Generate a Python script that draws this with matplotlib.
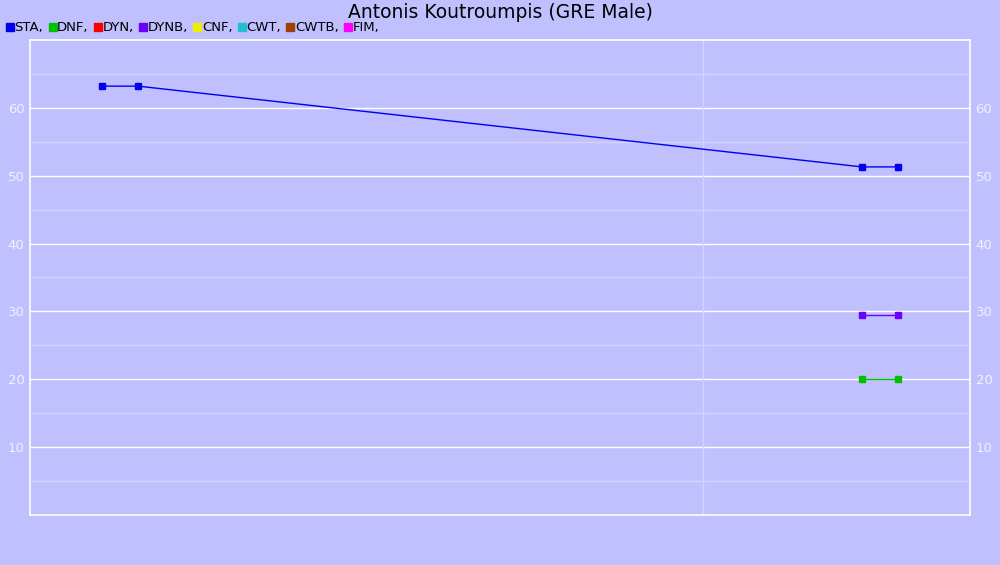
import matplotlib.pyplot as plt
from matplotlib.lines import Line2D

# disciplines shown in the legend
disciplines = ['STA', 'DNF', 'DYN', 'DYNB', 'CNF', 'CWT', 'CWTB', 'FIM']
colors = ['#0000ee', '#00c000', '#ff0000', '#6a00ff', '#eeee00', '#20c0d0', '#a04000', '#ff00ff']

# x positions (relative time units) and results per discipline
sta_x = [7.7, 11.5, 88.5, 92.3]
sta_y = [63.2, 63.2, 51.3, 51.3]
dynb_x = [88.5, 92.3]
dynb_y = [29.5, 29.5]
dnf_x = [88.5, 92.3]
dnf_y = [20.0, 20.0]
year_line = 71.6

bg = '#c0c0ff'
fig = plt.figure(figsize=(10, 5.65), dpi=100, facecolor=bg)
ax = fig.add_axes([0.03, 0.0885, 0.94, 0.8407], facecolor=bg)

# grid
for v in [5, 15, 25, 35, 45, 55, 65]:
    ax.axhline(v, color='#d4d4ff', lw=1, zorder=1)
for v in [10, 20, 30, 40, 50, 60]:
    ax.axhline(v, color='white', lw=1, zorder=1)
ax.axvline(year_line, color='#d4d4ff', lw=1, zorder=1)

ax.plot(sta_x, sta_y, color=colors[0], lw=1, marker='s', ms=4.5, zorder=3)
ax.plot(dynb_x, dynb_y, color=colors[3], lw=1, marker='s', ms=4.5, zorder=3)
ax.plot(dnf_x, dnf_y, color=colors[1], lw=1, marker='s', ms=4.5, zorder=3)

ax.set_xlim(0, 100)
ax.set_ylim(0, 70)
ax.set_xticks([])
ax.set_yticks([10, 20, 30, 40, 50, 60])
ax.tick_params(axis='y', length=0, labelcolor='#f0f0ff', labelsize=9.5, pad=4,
               left=True, right=True, labelleft=True, labelright=True)
for s in ax.spines.values():
    s.set_color('white')
    s.set_linewidth(1.2)

fig.text(0.5, 0.978, 'Antonis Koutroumpis (GRE Male)', ha='center', va='center', fontsize=13.5)

handles = [Line2D([], [], ls='none', marker='s', ms=6, color=c) for c in colors]
labels = [d + ',' for d in disciplines]
fig.legend(handles, labels, loc='center left', bbox_to_anchor=(0.0, 0.951), ncol=8,
           frameon=False, fontsize=9.5, handlelength=0.5, handletextpad=0.1,
           columnspacing=0.45, borderpad=0)

fig.savefig('out.png', dpi=100, facecolor=bg)
